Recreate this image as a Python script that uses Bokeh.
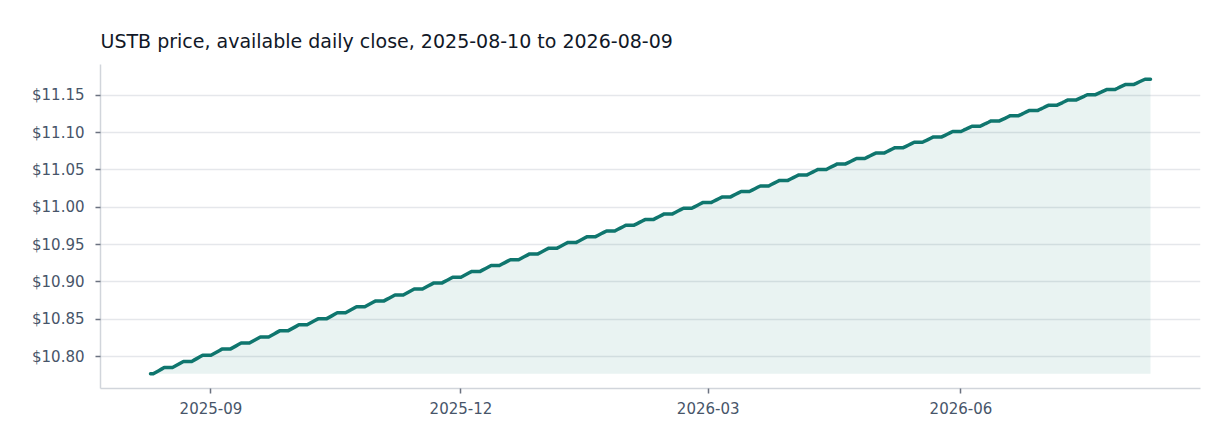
import pandas as pd
from bokeh.plotting import figure
from bokeh.embed import file_html
from bokeh.resources import INLINE
from bokeh.models import (
    ColumnDataSource,
    DatetimeTickFormatter,
    FixedTicker,
    NumeralTickFormatter,
    SingleIntervalTicker,
    Title,
)

TITLE = "USTB price, available daily close, 2025-08-10 to 2026-08-09"
START_DATE = "2025-08-10"
END_DATE = "2026-08-09"

# daily close, one calendar day per value; rows are weeks Sat..Fri
# (first row starts on Sunday, last row is the closing weekend)
CLOSES = [
    10.7772, 10.7772, 10.7793, 10.7813, 10.7834, 10.7855,
    10.7855, 10.7855, 10.7855, 10.7875, 10.7896, 10.7917, 10.7937,
    10.7937, 10.7937, 10.7937, 10.7958, 10.7978, 10.7999, 10.8020,
    10.8020, 10.8020, 10.8020, 10.8040, 10.8061, 10.8081, 10.8102,
    10.8102, 10.8102, 10.8102, 10.8122, 10.8142, 10.8163, 10.8183,
    10.8183, 10.8183, 10.8183, 10.8204, 10.8224, 10.8244, 10.8265,
    10.8265, 10.8265, 10.8265, 10.8285, 10.8305, 10.8326, 10.8346,
    10.8346, 10.8346, 10.8346, 10.8366, 10.8386, 10.8406, 10.8427,
    10.8427, 10.8427, 10.8427, 10.8447, 10.8467, 10.8487, 10.8507,
    10.8507, 10.8507, 10.8507, 10.8527, 10.8547, 10.8568, 10.8588,
    10.8588, 10.8588, 10.8588, 10.8608, 10.8628, 10.8648, 10.8668,
    10.8668, 10.8668, 10.8668, 10.8688, 10.8708, 10.8728, 10.8747,
    10.8747, 10.8747, 10.8747, 10.8767, 10.8787, 10.8807, 10.8827,
    10.8827, 10.8827, 10.8827, 10.8847, 10.8867, 10.8886, 10.8906,
    10.8906, 10.8906, 10.8906, 10.8926, 10.8946, 10.8965, 10.8985,
    10.8985, 10.8985, 10.8985, 10.9005, 10.9024, 10.9044, 10.9064,
    10.9064, 10.9064, 10.9064, 10.9083, 10.9103, 10.9123, 10.9142,
    10.9142, 10.9142, 10.9142, 10.9162, 10.9181, 10.9201, 10.9220,
    10.9220, 10.9220, 10.9220, 10.9240, 10.9259, 10.9279, 10.9298,
    10.9298, 10.9298, 10.9298, 10.9318, 10.9337, 10.9356, 10.9376,
    10.9376, 10.9376, 10.9376, 10.9395, 10.9414, 10.9434, 10.9453,
    10.9453, 10.9453, 10.9453, 10.9472, 10.9492, 10.9511, 10.9530,
    10.9530, 10.9530, 10.9530, 10.9549, 10.9568, 10.9588, 10.9607,
    10.9607, 10.9607, 10.9607, 10.9626, 10.9645, 10.9664, 10.9683,
    10.9683, 10.9683, 10.9683, 10.9702, 10.9721, 10.9740, 10.9760,
    10.9760, 10.9760, 10.9760, 10.9778, 10.9797, 10.9816, 10.9835,
    10.9835, 10.9835, 10.9835, 10.9854, 10.9873, 10.9892, 10.9911,
    10.9911, 10.9911, 10.9911, 10.9930, 10.9949, 10.9968, 10.9986,
    10.9986, 10.9986, 10.9986, 11.0005, 11.0024, 11.0043, 11.0062,
    11.0062, 11.0062, 11.0062, 11.0080, 11.0099, 11.0118, 11.0136,
    11.0136, 11.0136, 11.0136, 11.0155, 11.0174, 11.0192, 11.0211,
    11.0211, 11.0211, 11.0211, 11.0229, 11.0248, 11.0267, 11.0285,
    11.0285, 11.0285, 11.0285, 11.0304, 11.0322, 11.0341, 11.0359,
    11.0359, 11.0359, 11.0359, 11.0378, 11.0396, 11.0415, 11.0433,
    11.0433, 11.0433, 11.0433, 11.0451, 11.0470, 11.0488, 11.0506,
    11.0506, 11.0506, 11.0506, 11.0525, 11.0543, 11.0561, 11.0580,
    11.0580, 11.0580, 11.0580, 11.0598, 11.0616, 11.0634, 11.0652,
    11.0652, 11.0652, 11.0652, 11.0671, 11.0689, 11.0707, 11.0725,
    11.0725, 11.0725, 11.0725, 11.0743, 11.0761, 11.0779, 11.0797,
    11.0797, 11.0797, 11.0797, 11.0815, 11.0833, 11.0851, 11.0870,
    11.0870, 11.0870, 11.0870, 11.0887, 11.0905, 11.0923, 11.0941,
    11.0941, 11.0941, 11.0941, 11.0959, 11.0977, 11.0995, 11.1013,
    11.1013, 11.1013, 11.1013, 11.1031, 11.1048, 11.1066, 11.1084,
    11.1084, 11.1084, 11.1084, 11.1102, 11.1120, 11.1137, 11.1155,
    11.1155, 11.1155, 11.1155, 11.1173, 11.1190, 11.1208, 11.1226,
    11.1226, 11.1226, 11.1226, 11.1243, 11.1261, 11.1279, 11.1296,
    11.1296, 11.1296, 11.1296, 11.1314, 11.1331, 11.1349, 11.1366,
    11.1366, 11.1366, 11.1366, 11.1384, 11.1401, 11.1419, 11.1436,
    11.1436, 11.1436, 11.1436, 11.1454, 11.1471, 11.1488, 11.1506,
    11.1506, 11.1506, 11.1506, 11.1523, 11.1540, 11.1558, 11.1575,
    11.1575, 11.1575, 11.1575, 11.1592, 11.1610, 11.1627, 11.1644,
    11.1644, 11.1644, 11.1644, 11.1661, 11.1679, 11.1696, 11.1713,
    11.1713, 11.1713,
]

X_TICK_DATES = ["2025-09-01", "2025-12-01", "2026-03-01", "2026-06-01"]
Y_TICK_STEP = 0.05

COLORS = {
    "line": "#0f766e",
    "fill": "#0f766e",
    "title": "#111827",
    "label": "#475569",
    "axis": "#d1d5db",
    "tick": "#6b7280",
    "grid": "#e5e7eb",
}
FONT = "DejaVu Sans"

dates = pd.date_range(START_DATE, END_DATE, freq="D")
assert len(dates) == len(CLOSES)

src = ColumnDataSource(dict(
    date=dates,
    close=CLOSES,
    base=[min(CLOSES)] * len(CLOSES),
))

p = figure(
    width=1208,
    height=438,
    x_axis_type="datetime",
    output_backend="svg",
    toolbar_location=None,
    tools="",
    min_border_left=100,
    min_border_right=8,
    min_border_top=0,
    min_border_bottom=50,
    outline_line_color=None,
    background_fill_color="white",
    border_fill_color="white",
)

p.varea(x="date", y1="base", y2="close", source=src,
        fill_color=COLORS["fill"], fill_alpha=0.09)
p.line("date", "close", source=src, line_color=COLORS["line"],
       line_width=3.5, line_join="round", line_cap="round")

# The figure's own title sits outermost: use it as a blank top margin,
# and stack the real title between it and the frame.
p.title.text = " "
p.title.text_font_size = "10px"
p.title.standoff = 2

p.add_layout(Title(
    text=TITLE,
    text_font=FONT,
    text_font_size="19px",
    text_font_style="normal",
    text_color=COLORS["title"],
    align="left",
    standoff=25,
), "above")

# Axes
p.yaxis.ticker = SingleIntervalTicker(interval=Y_TICK_STEP, num_minor_ticks=0)
p.yaxis.formatter = NumeralTickFormatter(format="$0,0.00")
tick_ms = [pd.Timestamp(d).value // 10**6 for d in X_TICK_DATES]
p.xaxis.ticker = FixedTicker(ticks=tick_ms)
p.xaxis.formatter = DatetimeTickFormatter(
    days="%Y-%m", months="%Y-%m", years="%Y-%m"
)

p.axis.major_label_text_font = FONT
p.axis.major_label_text_font_size = "15px"
p.axis.major_label_text_color = COLORS["label"]
p.axis.axis_line_color = COLORS["axis"]
p.axis.axis_line_width = 1.5
p.axis.major_tick_line_color = COLORS["tick"]
p.axis.major_tick_line_width = 1.5
p.axis.major_tick_in = 0
p.axis.major_tick_out = 5
p.axis.minor_tick_line_color = None
p.xaxis.major_label_standoff = 8
p.yaxis.major_label_standoff = 11

# Grid: horizontal only
p.xgrid.grid_line_color = None
p.ygrid.grid_line_color = COLORS["grid"]
p.ygrid.grid_line_width = 1.5

open("out.html", "w").write(file_html(p, INLINE))
